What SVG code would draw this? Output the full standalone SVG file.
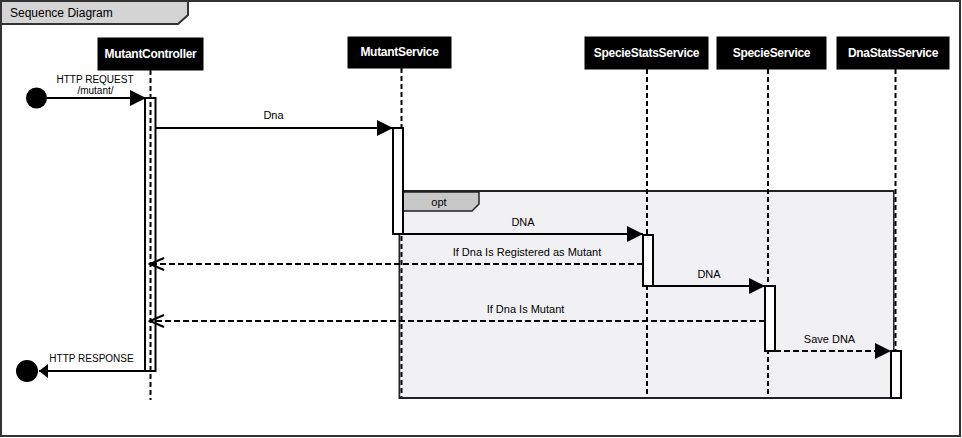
<svg xmlns="http://www.w3.org/2000/svg" width="962" height="438" viewBox="0 0 962 438">
<defs>
<style>
.lbl{font-family:"Liberation Sans",Arial,sans-serif;font-size:11px;fill:#000;text-anchor:middle}
.small{font-size:10px}
.pbox{fill:#000;stroke:#000}
.ptxt{font-family:"Liberation Sans",Arial,sans-serif;font-size:12px;font-weight:bold;fill:#fff;text-anchor:middle;letter-spacing:-0.3px}
.life{stroke:#000;stroke-width:2;stroke-dasharray:5 3;fill:none}
.lifebg{stroke:#fff;stroke-width:2;fill:none}
.act{fill:#fff;stroke:#000;stroke-width:2}
.msg{stroke:#000;stroke-width:2;fill:none}
.ret{stroke:#000;stroke-width:2;fill:none;stroke-dasharray:6 3}
</style>
<marker id="filled" markerWidth="16" markerHeight="16" refX="16" refY="8" orient="auto" markerUnits="userSpaceOnUse" viewBox="0 0 16 16">
<path d="M0,0 L16,8 L0,16 Z" fill="#000"/>
</marker>
<marker id="open" markerWidth="18" markerHeight="16" refX="16" refY="7" orient="auto" markerUnits="userSpaceOnUse" viewBox="0 0 18 14">
<path d="M2,1 L16,7 L2,13" fill="none" stroke="#000" stroke-width="2"/>
</marker>
<marker id="lost" markerWidth="10" markerHeight="14" refX="9" refY="7" orient="auto" markerUnits="userSpaceOnUse" viewBox="0 0 10 14">
<path d="M0,0 L9,7 L0,14 Z" fill="#000"/>
</marker>
</defs>

<g id="frame">
<rect x="1" y="1" width="959" height="435" fill="#fff" stroke="#333" stroke-width="2"/>
<path d="M1,1 H188 V15 L178,24 H1 Z" fill="#d4d4d4" stroke="#333" stroke-width="2"/>
<text x="10" y="17" style="font-family:'Liberation Sans',Arial,sans-serif;font-size:12px;fill:#000">Sequence Diagram</text>
</g>

<g id="opt-fragment">
<rect x="399.5" y="191" width="494.5" height="207" fill="#f1f1f4" stroke="#222" stroke-width="2"/>
<path d="M401,192 H479 V204 L472,211 H401 Z" fill="#c8c8c8" stroke="#222" stroke-width="1.5"/>
<text class="lbl" x="439" y="206">opt</text>
</g>

<g id="lifelines">
<line class="lifebg" x1="401.5" y1="68" x2="401.5" y2="397"/>
<line class="life" x1="401.5" y1="68" x2="401.5" y2="397"/>
<line class="lifebg" x1="647" y1="69" x2="647" y2="397"/>
<line class="life" x1="647" y1="69" x2="647" y2="397"/>
<line class="lifebg" x1="768" y1="69" x2="768" y2="397"/>
<line class="life" x1="768" y1="69" x2="768" y2="397"/>
<line class="lifebg" x1="895.5" y1="69" x2="895.5" y2="397"/>
<line class="life" x1="895.5" y1="69" x2="895.5" y2="397"/>
</g>

<g id="MutantController">
<rect class="pbox" x="98" y="38" width="105" height="32"/>
<text class="ptxt" x="150.5" y="58">MutantController</text>
<rect class="act" x="145" y="98" width="10.5" height="273"/>
<line class="life" x1="150.5" y1="70" x2="150.5" y2="400"/>
</g>

<g id="MutantService">
<rect class="pbox" x="348" y="37" width="103" height="31"/>
<text class="ptxt" x="399.5" y="56">MutantService</text>
<rect class="act" x="393" y="128" width="10" height="106"/>
</g>

<g id="SpecieStatsService">
<rect class="pbox" x="585" y="37" width="123" height="32"/>
<text class="ptxt" x="646.5" y="57">SpecieStatsService</text>
<rect class="act" x="643" y="235" width="10" height="51"/>
</g>

<g id="SpecieService">
<rect class="pbox" x="717" y="37" width="109" height="32"/>
<text class="ptxt" x="771.5" y="57">SpecieService</text>
<rect class="act" x="765" y="286" width="10" height="65"/>
</g>

<g id="DnaStatsService">
<rect class="pbox" x="837" y="37" width="112" height="32"/>
<text class="ptxt" x="893" y="57">DnaStatsService</text>
<rect class="act" x="891" y="351" width="10" height="47"/>
</g>

<g id="found-start">
<circle cx="36.5" cy="98" r="10.5" fill="#000"/>
</g>
<g id="lost-end">
<circle cx="27" cy="371" r="11" fill="#000"/>
</g>

<g id="connectors">
<line class="msg" x1="47" y1="98" x2="146" y2="98" marker-end="url(#filled)"/>
<text class="lbl small" x="95" y="83">HTTP REQUEST</text>
<text class="lbl small" x="95.5" y="94">/mutant/</text>

<line class="msg" x1="156" y1="128" x2="393" y2="128" marker-end="url(#filled)"/>
<text class="lbl" x="273.5" y="119">Dna</text>

<line class="msg" x1="403" y1="234" x2="643" y2="234" marker-end="url(#filled)"/>
<text class="lbl" x="523" y="226">DNA</text>

<line class="ret" x1="643" y1="264" x2="150" y2="264" marker-end="url(#open)"/>
<text class="lbl" x="527" y="256">If Dna Is Registered as Mutant</text>

<line class="msg" x1="653" y1="286" x2="765" y2="286" marker-end="url(#filled)"/>
<text class="lbl" x="709" y="278">DNA</text>

<line class="ret" x1="765" y1="321" x2="150" y2="321" marker-end="url(#open)"/>
<text class="lbl" x="525.5" y="313">If Dna Is Mutant</text>

<line class="ret" x1="775" y1="351" x2="891" y2="351" marker-end="url(#filled)"/>
<text class="lbl" x="829.5" y="343">Save DNA</text>

<line class="msg" x1="145" y1="371" x2="39" y2="371" marker-end="url(#lost)"/>
<text class="lbl small" x="91.5" y="362">HTTP RESPONSE</text>
</g>
</svg>
